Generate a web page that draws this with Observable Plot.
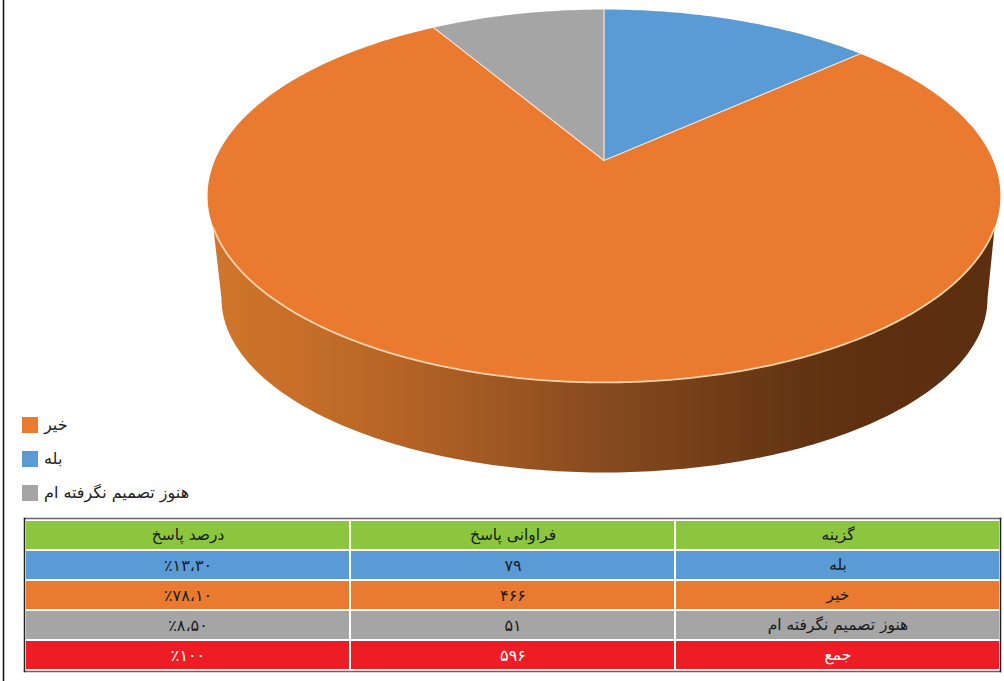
<!DOCTYPE html>
<html lang="fa">
<head>
<meta charset="utf-8">
<script src="https://cdn.jsdelivr.net/npm/d3@7"></script>
<script src="https://cdn.jsdelivr.net/npm/@observablehq/plot@0.6"></script>
<style>
html,body{margin:0;padding:0;background:#fff;}
#wrap{position:relative;width:1004px;height:681px;overflow:hidden;}
#wrap svg{position:absolute;left:0;}
.legend{position:absolute;left:22px;height:16px;display:flex;align-items:center;font:16px "DejaVu Sans",sans-serif;color:#222;white-space:nowrap;}
.legend i{display:block;width:16px;height:16px;margin-right:6px;}
.legend span{position:relative;top:-1px;}
.num text{letter-spacing:3.5px;}
</style>
</head>
<body>
<div id="wrap"></div>
<script>
// Data
const categories = ["بله", "خیر", "هنوز تصمیم نگرفته ام"];
const counts = [79, 466, 51];
const totalCount = 596;
const percents = [13.3, 78.1, 8.5];
const totalPercent = 100;
const colors = ["#5b9bd5", "#ea7a2f", "#a5a5a5"];
const legendOrder = ["خیر", "بله", "هنوز تصمیم نگرفته ام"];
const columns = ["درصد پاسخ", "فراوانی پاسخ", "گزینه"];
const totalLabel = "جمع";

// Persian numerals
const fa = s => String(s).replace(/\d/g, d => "۰۱۲۳۴۵۶۷۸۹"[d]);
const faPct = v => "٪" + fa(Number.isInteger(v) ? v : v.toFixed(2)).replace(".", "،");

// Tilted-disc projection: angle clockwise from the far side → chart position
const cx = 603.5, cy = 160, A = 389.2, B = 179.7, K = 0.1903;
const project = th => {
  const X = Math.sin(th), Z = Math.cos(th), w = 1 + K * Z;
  return {x: cx + A * X / w, y: cy - B * Z / w};
};
const total = d3.sum(percents);
let acc = 0;
const wedges = categories.map((c, i) => {
  const a0 = acc / total * 2 * Math.PI;
  acc += percents[i];
  const a1 = acc / total * 2 * Math.PI;
  return {category: c, a0, a1};
});
const wedgePts = wedges.flatMap(w => {
  const n = Math.max(8, Math.ceil((w.a1 - w.a0) * 60));
  const pts = [{x: cx, y: cy, category: w.category}];
  for (let k = 0; k <= n; k++) pts.push({...project(w.a0 + (w.a1 - w.a0) * k / n), category: w.category});
  pts.push({x: cx, y: cy, category: w.category});
  return pts;
});
const spokes = wedges.flatMap((w, i) => [
  {x: cx, y: cy, id: i},
  {...project(w.a0), id: i}
]);

// Rim: lower edge of the top face, ordered left to right
const rimLow = d3.range(0, 721)
  .map(d => project(d * Math.PI / 360))
  .filter(p => p.y >= 227)
  .sort((a, b) => a.x - b.x);

// Wall of the cylinder: joins the rim, then follows the lower ellipse
const wallCx = 604, wallCy = 298, wallRx = 383, wallRy = 174;
const wallArc = d3.range(0, 181).map(d => {
  const t = d * Math.PI / 180;
  return {x: wallCx + wallRx * Math.cos(t), y: wallCy + wallRy * Math.sin(t)};
}).sort((a, b) => a.x - b.x);
const wall = [rimLow[0], ...wallArc, rimLow[rimLow.length - 1]];

const wrap = document.getElementById("wrap");

const pie = Plot.plot({
  width: 1004,
  height: 681,
  margin: 0,
  x: {domain: [0, 1004], axis: null},
  y: {domain: [681, 0], axis: null},
  color: {domain: categories, range: colors},
  marks: [
    () => {
      const ns = "http://www.w3.org/2000/svg";
      const defs = document.createElementNS(ns, "defs");
      const g = document.createElementNS(ns, "linearGradient");
      g.setAttribute("id", "wallShade");
      g.setAttribute("gradientUnits", "userSpaceOnUse");
      g.setAttribute("x1", 210); g.setAttribute("x2", 1000);
      g.setAttribute("y1", 0); g.setAttribute("y2", 0);
      [[0, "#d0762b"], [0.12, "#c56e29"], [0.25, "#b36325"], [0.5, "#864a1f"],
       [0.7, "#693814"], [0.82, "#5e3010"], [1, "#5c2f10"]].forEach(([o, c]) => {
        const s = document.createElementNS(ns, "stop");
        s.setAttribute("offset", o); s.setAttribute("stop-color", c);
        g.appendChild(s);
      });
      defs.appendChild(g);
      return defs;
    },
    Plot.ruleX([3], {stroke: "#111", strokeWidth: 1.5}),
    Plot.line(wall, {x: "x", y: "y", fill: "url(#wallShade)", stroke: null}),
    Plot.line(wedgePts, {x: "x", y: "y", fill: "category", stroke: null}),
    Plot.line(spokes, {x: "x", y: "y", z: "id", stroke: "#fbe3d0", strokeWidth: 1.2}),
    Plot.line(rimLow, {x: "x", y: "y", stroke: "#fbd3ae", strokeWidth: 1.8})
  ]
});
pie.style.top = "0";
wrap.appendChild(pie);

// Legend
legendOrder.forEach((c, i) => {
  const d = document.createElement("div");
  d.className = "legend";
  d.style.top = (417 + i * 34) + "px";
  const sw = document.createElement("i");
  sw.style.background = colors[categories.indexOf(c)];
  const t = document.createElement("span");
  t.textContent = c;
  t.dir = "rtl";
  d.append(sw, t);
  wrap.appendChild(d);
});

// Table
const rowKeys = ["header", ...categories, totalLabel];
const rowColors = ["#8cc63f", ...colors, "#ee1c25"];
const tableRows = [
  {key: "header", cells: columns},
  ...categories.map((c, i) => ({key: c, cells: [faPct(percents[i]), fa(counts[i]), c]})),
  {key: totalLabel, cells: [faPct(totalPercent), fa(totalCount), totalLabel]}
];
const tableCells = tableRows.flatMap(r => r.cells.map((text, j) => ({
  row: r.key, col: columns[j], text,
  numeric: r.key !== "header" && j < 2
})));
const textFill = {value: d => d.row === totalLabel ? "#fff" : "#1a1a1a", scale: null};

const table = Plot.plot({
  width: 1004,
  height: 171,
  marginTop: 8,
  marginBottom: 10,
  marginLeft: 24,
  marginRight: 4,
  x: {domain: columns, axis: null, padding: 0},
  y: {domain: rowKeys, axis: null, padding: 0},
  color: {domain: rowKeys, range: rowColors},
  marks: [
    Plot.cell(tableCells, {x: "col", y: "row", fill: "row", inset: 1}),
    Plot.text(tableCells, {filter: d => !d.numeric, x: "col", y: "row", text: "text",
      fill: textFill, fontSize: 15.5, fontFamily: "DejaVu Sans"}),
    Plot.text(tableCells, {filter: d => d.numeric, x: "col", y: "row", text: "text",
      className: "num", fill: textFill, fontSize: 16, fontFamily: "DejaVu Sans"}),
    Plot.frame({anchor: "top", stroke: "#666", strokeWidth: 1.5}),
    Plot.frame({anchor: "bottom", stroke: "#666", strokeWidth: 1.5}),
    Plot.frame({anchor: "left", stroke: "#222", strokeWidth: 1.5}),
    Plot.frame({anchor: "right", stroke: "#222", strokeWidth: 1.5})
  ]
});
table.style.top = "510px";
table.style.background = "transparent";
wrap.appendChild(table);
</script>
</body>
</html>
